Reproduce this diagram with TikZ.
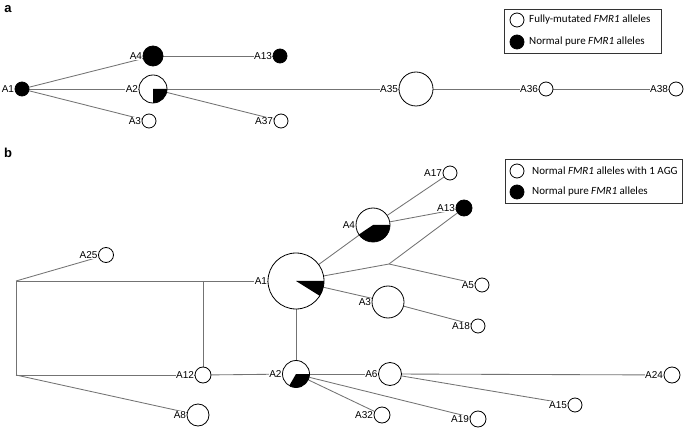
\documentclass[tikz,border=0pt]{standalone}
\usepackage{fontspec}
\setmainfont{Liberation Sans}
\newfontfamily\legfont{Carlito}
\usetikzlibrary{backgrounds}
\tikzset{
  allele/.style={circle, draw=black, line width=0.8pt, inner sep=0pt, minimum size=#1},
  wt/.style={allele=#1, fill=white},
  bk/.style={allele=#1, fill=black},
  lbl/.style={font=\fontsize{10}{10}\selectfont, inner sep=0.4pt, fill=white},
  edge/.style={draw=black!55, line width=0.85pt},
  legtext/.style={font=\legfont\fontsize{11}{11}\selectfont, anchor=west, inner sep=0pt},
  legbox/.style={draw=black!80, line width=0.8pt, anchor=north west, inner sep=0pt},
  panel/.style={font=\bfseries\fontsize{13}{13}\selectfont, inner sep=0pt},
  wedge/.style={fill=black}
}
\begin{document}
\begin{tikzpicture}[x=1pt,y=-1pt]
\useasboundingbox (0,0) rectangle (685,430);
% ---------------- panel a ----------------
\node[panel] (pa) at (8,9) {a};
\node[bk=14pt, label={[lbl]left:A1}] (aA1) at (22,89) {};
\node[bk=20pt, label={[lbl]left:A4}] (aA4) at (153,56) {};
\node[bk=14pt, label={[lbl]left:A13}] (aA13) at (280,56) {};
\node[wt=28pt, label={[lbl]left:A2}] (aA2) at (153,89) {};
\node[wt=14pt, label={[lbl]left:A3}] (aA3) at (149,121) {};
\node[wt=14pt, label={[lbl]left:A37}] (aA37) at (281,121) {};
\node[wt=34pt, label={[lbl]left:A35}] (aA35) at (416,89) {};
\node[wt=14pt, label={[lbl]left:A36}] (aA36) at (546,89) {};
\node[wt=14pt, label={[lbl]left:A38}] (aA38) at (676,89) {};
\fill[wedge] (aA2.center) -- ++(0:14) arc[start angle=0, end angle=90, radius=14] -- cycle;
\begin{scope}[on background layer]
  \draw[edge] (aA1) -- (aA4);
  \draw[edge] (aA1) -- (aA2);
  \draw[edge] (aA1) -- (aA3);
  \draw[edge] (aA4) -- (aA13);
  \draw[edge] (aA2) -- (aA35);
  \draw[edge] (aA2) -- (aA37);
  \draw[edge] (aA35) -- (aA36);
  \draw[edge] (aA36) -- (aA38);
\end{scope}
% legend a
\node[legbox, minimum width=157pt, minimum height=44pt] (legA) at (504,9) {};
\node[wt=14pt] (legAw) at (517,20) {};
\node[bk=14pt] (legAb) at (517,42) {};
\node[legtext] (legAwt) at (529,20) {Fully-mutated \textit{FMR1} alleles};
\node[legtext] (legAbt) at (529,42) {Normal pure \textit{FMR1} alleles};
% ---------------- panel b ----------------
\node[panel] (pb) at (8,153) {b};
\node[wt=56pt, label={[lbl]left:A1}] (bA1) at (296,281) {};
\node[wt=34pt, label={[lbl]left:A4}] (bA4) at (373,225) {};
\node[wt=14pt, label={[lbl]left:A17}] (bA17) at (450,173) {};
\node[bk=16pt, label={[lbl]left:A13}] (bA13) at (464,208) {};
\node[wt=14pt, label={[lbl]left:A5}] (bA5) at (482,285) {};
\node[wt=32pt, label={[lbl]left:A3}] (bA3) at (388,302) {};
\node[wt=14pt, label={[lbl]left:A18}] (bA18) at (478,326) {};
\node[wt=27pt, label={[lbl]left:A2}] (bA2) at (296,374) {};
\node[wt=23pt, label={[lbl]left:A6}] (bA6) at (390,374) {};
\node[wt=16pt, label={[lbl]left:A24}] (bA24) at (672,375) {};
\node[wt=14pt, label={[lbl]left:A15}] (bA15) at (575,405) {};
\node[wt=16pt, label={[lbl]left:A32}] (bA32) at (382,415) {};
\node[wt=16pt, label={[lbl]left:A19}] (bA19) at (478,419) {};
\node[wt=16pt, label={[lbl]left:A12}] (bA12) at (203,375) {};
\node[wt=22pt, label={[lbl]left:A8}] (bA8) at (198,415) {};
\node[wt=15pt, label={[lbl]left:A25}] (bA25) at (106,255) {};
\coordinate (bj) at (389,264);
\coordinate (blt) at (16,281);
\coordinate (blb) at (16,375);
\coordinate (bjm) at (203,281);
\fill[wedge] (bA1.center) -- ++(0:28) arc[start angle=0, end angle=32, radius=28] -- cycle;
\fill[wedge] (bA4.center) -- ++(0:17) arc[start angle=0, end angle=146, radius=17] -- cycle;
\fill[wedge] (bA2.center) -- ++(0:13.5) arc[start angle=0, end angle=120, radius=13.5] -- cycle;
\begin{scope}[on background layer]
  \draw[edge] (blt) -- (bA1);
  \draw[edge] (blt) -- (bA25);
  \draw[edge] (blt) -- (blb);
  \draw[edge] (blb) -- (bA12);
  \draw[edge] (blb) -- (bA8);
  \draw[edge] (bjm) -- (bA12);
  \draw[edge] (bA12) -- (bA2);
  \draw[edge] (bA1) -- (bA2);
  \draw[edge] (bA1) -- (bA4);
  \draw[edge] (bA1) -- (bj);
  \draw[edge] (bj) -- (bA13);
  \draw[edge] (bj) -- (bA5);
  \draw[edge] (bA4) -- (bA17);
  \draw[edge] (bA4) -- (bA13);
  \draw[edge] (bA1) -- (bA3);
  \draw[edge] (bA3) -- (bA18);
  \draw[edge] (bA2) -- (bA6);
  \draw[edge] (bA6) -- (bA24);
  \draw[edge] (bA6) -- (bA15);
  \draw[edge] (bA2) -- (bA32);
  \draw[edge] (bA2) -- (bA19);
\end{scope}
% legend b
\node[legbox, minimum width=177pt, minimum height=44pt] (legB) at (505,159) {};
\node[wt=14pt] (legBw) at (517,171) {};
\node[bk=14pt] (legBb) at (517,192) {};
\node[legtext] (legBwt) at (532,171) {Normal \textit{FMR1} alleles with 1 AGG};
\node[legtext] (legBbt) at (532,192) {Normal pure \textit{FMR1} alleles};
\end{tikzpicture}
\end{document}
